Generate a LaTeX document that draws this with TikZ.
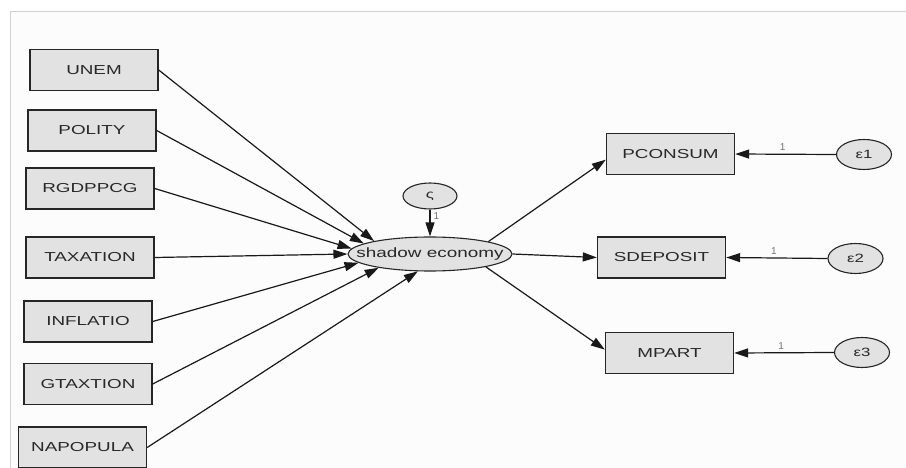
\documentclass[tikz,border=0pt]{standalone}
\usepackage{fontspec}
\setmainfont{Liberation Sans}
\usetikzlibrary{shapes.geometric,arrows.meta}
\definecolor{panel}{RGB}{252,252,252}
\definecolor{frame}{RGB}{210,210,210}
\definecolor{boxfill}{RGB}{226,226,226}
\definecolor{ink}{RGB}{40,40,40}
\newcommand{\wtx}[1]{\scalebox{1.45}[1]{#1}}
\begin{document}
\begin{tikzpicture}[x=1pt,y=-1pt,
  obs/.style={draw=black!85, line width=1.4pt, fill=boxfill, minimum width=128pt,
    minimum height=41pt, inner sep=0pt, font=\fontsize{13}{13}\selectfont, text=ink},
  lat/.style={ellipse, draw=black!85, line width=1.1pt, fill=boxfill, inner sep=0pt,
    text=ink},
  arr/.style={-{Triangle[length=14pt,width=9pt]}, line width=1.2pt, draw=black!90},
  lbl/.style={font=\fontsize{10}{10}\selectfont, text=black!55, inner sep=1pt}]
\useasboundingbox (0,0) rectangle (906,468);
\fill[white] (0,0) rectangle (906,468);
\fill[panel] (10,12) rectangle (906,468);
\draw[frame, line width=1pt] (906,12) -- (10,12) -- (10,468);

% observed causes
\node[obs] (unem) at (94,70) {\wtx{UNEM}};
\node[obs] (polity) at (92,130.5) {\wtx{POLITY}};
\node[obs] (rgdp) at (90,188.5) {\wtx{RGDPPCG}};
\node[obs] (tax) at (90,257.5) {\wtx{TAXATION}};
\node[obs] (infl) at (88,321.5) {\wtx{INFLATIO}};
\node[obs] (gtax) at (88,384) {\wtx{GTAXTION}};
\node[obs] (napo) at (82.5,447.5) {\wtx{NAPOPULA}};

% latent
\node[lat, minimum width=164pt, minimum height=34pt,
  font=\fontsize{13.5}{13.5}\selectfont] (se) at (430,254)
  {\makebox[0pt]{\scalebox{1.4}[1]{shadow economy}}};
\node[lat, minimum width=54pt, minimum height=26pt,
  font=\fontsize{12}{12}\selectfont] (zeta) at (430,196) {\scalebox{1.4}[1]{ς}};

% indicators
\node[obs] (pc) at (670.5,154) {\wtx{PCONSUM}};
\node[obs] (sd) at (661.5,257.5) {\wtx{SDEPOSIT}};
\node[obs] (mp) at (669.5,353) {\wtx{MPART}};

% errors
\node[lat, minimum width=55pt, minimum height=30pt,
  font=\fontsize{12}{12}\selectfont] (e1) at (864,154.5) {\scalebox{1.4}[1]{ε1}};
\node[lat, minimum width=55pt, minimum height=30pt,
  font=\fontsize{12}{12}\selectfont] (e2) at (855.5,258.5) {\scalebox{1.4}[1]{ε2}};
\node[lat, minimum width=55pt, minimum height=30pt,
  font=\fontsize{12}{12}\selectfont] (e3) at (862,352.5) {\scalebox{1.4}[1]{ε3}};

% causal paths
\draw[arr] (unem.east) -- (se.167);
\draw[arr] (polity.east) -- (se.171);
\draw[arr] (rgdp.east) -- (se.176);
\draw[arr] (tax.east) -- (se.180);
\draw[arr] (infl.east) -- (se.187);
\draw[arr] (gtax.east) -- (se.195);
\draw[arr] (napo.east) -- (se.235);

\draw[arr] (zeta.south) -- node[lbl, pos=0.25, right=2pt] {1} (se.north);

\draw[arr] (se.12) -- (pc.185);
\draw[arr] (se.east) -- (sd.west);
\draw[arr] (se.-13) -- (mp.177);

\draw[arr] (e1.west) -- node[lbl, pos=0.53, above=2pt] {1} (pc.east);
\draw[arr] (e2.west) -- node[lbl, pos=0.53, above=2pt] {1} (sd.east);
\draw[arr] (e3.west) -- node[lbl, pos=0.53, above=2pt] {1} (mp.east);
\end{tikzpicture}
\end{document}
